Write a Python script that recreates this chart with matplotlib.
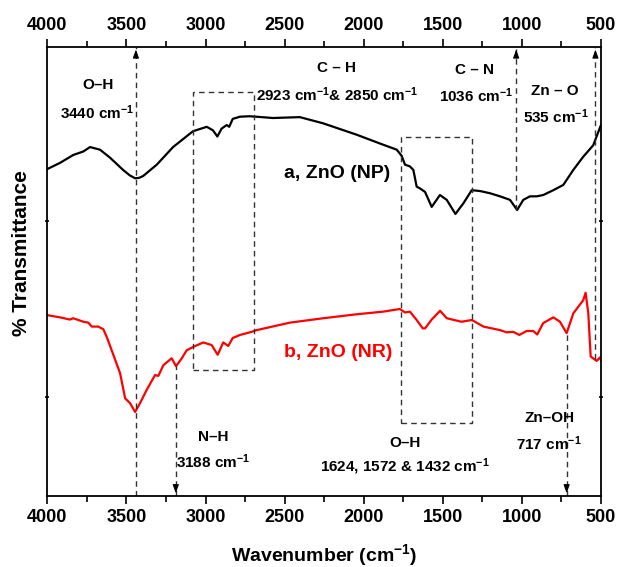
import matplotlib.pyplot as plt
import numpy as np

plt.rcParams['font.family'] = ['Liberation Sans', 'DejaVu Sans']
plt.rcParams['font.weight'] = 'bold'
plt.rcParams['mathtext.fontset'] = 'custom'
plt.rcParams['mathtext.rm'] = 'Liberation Sans:bold'
plt.rcParams['mathtext.it'] = 'Liberation Sans:bold'
plt.rcParams['mathtext.bf'] = 'Liberation Sans:bold'

# a, ZnO (NP) -- black
np_wave = [4000, 3920, 3836, 3772, 3730, 3667, 3604, 3521, 3480, 3445, 3420, 3395, 3308, 3205, 3079,
           2992, 2953, 2925, 2898, 2866, 2850, 2828, 2782, 2719, 2573, 2404, 2257, 2044,
           1897, 1791, 1760, 1739, 1708, 1686, 1665, 1644, 1612, 1570, 1518, 1475, 1420,
           1370, 1317, 1264, 1201, 1138, 1075, 1030, 991, 949, 906, 865, 801, 738, 675,
           612, 549, 500]
np_T = [65.9, 66.6, 67.5, 67.9, 68.4, 68.1, 67.2, 65.8, 65.2, 64.85, 64.9, 65.1, 66.4, 68.4, 70.2,
        70.7, 70.3, 69.6, 70.5, 70.9, 70.7, 71.6, 71.85, 71.9, 71.7, 71.8, 71.1, 69.8,
        68.8, 68.1, 67.4, 66.4, 66.2, 65.8, 63.9, 63.7, 63.3, 61.6, 62.95, 62.4, 60.8,
        62.0, 63.5, 63.4, 63.15, 62.8, 62.4, 61.25, 62.4, 62.8, 62.8, 62.95, 63.5, 64.1, 65.8,
        67.3, 68.6, 70.9]

# b, ZnO (NR) -- red
nr_wave = [4000, 3920, 3857, 3836, 3772, 3741, 3719, 3678, 3646, 3625, 3593, 3540, 3508,
           3477, 3445, 3414, 3372, 3319, 3298, 3267, 3214, 3186, 3150, 3119, 3077, 3014,
           2961, 2923, 2888, 2856, 2828, 2782, 2719, 2676, 2466, 2255, 2044, 1876, 1771,
           1739, 1708, 1665, 1627, 1612, 1570, 1517, 1475, 1382, 1316, 1243, 1138, 1096,
           1054, 1016, 970, 928, 903, 865, 801, 759, 717, 675, 612, 597, 580, 565, 527,
           506, 500]
nr_T = [49.3, 49.05, 48.8, 48.95, 48.55, 48.45, 48.0, 48.0, 47.7, 46.85, 45.3, 42.7, 39.85,
        39.3, 38.3, 39.3, 40.8, 42.5, 42.4, 43.6, 44.4, 43.5, 44.4, 45.3, 45.7, 46.2,
        45.9, 44.8, 46.2, 45.8, 46.7, 47.05, 47.35, 47.6, 48.45, 48.95, 49.4, 49.7, 50.0,
        49.6, 49.7, 48.75, 47.8, 47.8, 48.8, 49.8, 48.95, 48.55, 48.75, 48.0, 47.6, 47.35,
        47.4, 47.05, 47.5, 47.5, 47.1, 48.4, 49.05, 48.55, 47.25, 49.5, 51.0, 51.85, 49.5, 44.6, 44.1,
        44.5, 44.2]

x_ticks = [4000, 3500, 3000, 2500, 2000, 1500, 1000, 500]

# dashed peak markers: (wavenumber, y start, y end, arrow at 'top'/'bottom')
Y_TOP, Y_BOT = 79.8, 28.75
markers = [(3440, Y_BOT, Y_TOP, 'top'),
           (1036, 61.3, Y_TOP, 'top'),
           (535, 44.3, Y_TOP, 'top'),
           (3188, Y_BOT, 43.5, 'bottom'),
           (717, Y_BOT, 47.2, 'bottom')]

# dashed boxes: (x1, x2, y1, y2)
boxes = [(3080, 2695, 43.1, 74.6),
         (1766, 1313, 37.1, 69.5)]

fig = plt.figure(figsize=(6.26, 5.67), dpi=100)
ax = fig.add_axes([0.0756, 0.1252, 0.8844, 0.7924])

ax.plot(np_wave, np_T, color='black', lw=1.6)
ax.plot(nr_wave, nr_T, color='#ff0000', lw=1.6)

dash = dict(color='#333333', lw=1.0, ls=(0, (4, 3)))
for w, y1, y2, where in markers:
    ax.plot([w, w], [y1, y2], **dash)
    if where == 'top':
        ax.annotate('', xy=(w, Y_TOP), xytext=(0, -9), textcoords='offset points',
                    arrowprops=dict(arrowstyle='-|>,head_length=0.5,head_width=0.18',
                                    color='black', lw=0.8))
    else:
        ax.annotate('', xy=(w, Y_BOT), xytext=(0, 9), textcoords='offset points',
                    arrowprops=dict(arrowstyle='-|>,head_length=0.5,head_width=0.18',
                                    color='black', lw=0.8))

for x1, x2, y1, y2 in boxes:
    ax.plot([x1, x2, x2, x1, x1], [y1, y1, y2, y2, y1], **dash)

txt = dict(ha='center', va='center', fontsize=11, fontweight='bold')
ax.text(3680, 75.45, 'O–H', **txt)
ax.text(3686, 72.27, '3440 cm$^{-1}$', **txt)
ax.text(2169, 77.4, 'C – H', **txt)
ax.text(2169, 74.3, '2923 cm$^{-1}$& 2850 cm$^{-1}$', **txt)
ax.text(1302, 77.2, 'C – N', **txt)
ax.text(1290, 74.2, '1036 cm$^{-1}$', **txt)
ax.text(790, 74.8, 'Zn – O', **txt)
ax.text(784, 71.9, '535 cm$^{-1}$', **txt)
ax.text(2953, 35.45, 'N–H', **txt)
ax.text(2953, 32.6, '3188 cm$^{-1}$', **txt)
ax.text(1739, 34.8, 'O–H', **txt)
ax.text(1739, 32.05, '1624, 1572 & 1432 cm$^{-1}$', **txt)
ax.text(822, 37.6, 'Zn–OH', **txt)
ax.text(828, 34.7, '717 cm$^{-1}$', **txt)

ax.text(2169, 65.45, 'a, ZnO (NP)', ha='center', va='center', fontsize=14,
        fontweight='bold', color='black')
ax.text(2163, 45.1, 'b, ZnO (NR)', ha='center', va='center', fontsize=14,
        fontweight='bold', color='#ff0000')

ax.set_xlim(4000, 500)
ax.set_ylim(Y_BOT, Y_TOP)
ax.set_xticks(x_ticks)
ax.set_xticks(np.arange(500, 4001, 250), minor=True)
ax.set_yticks([40, 60])
ax.set_yticklabels([])
ax.xaxis.set_ticks_position('both')
ax.yaxis.set_ticks_position('both')
ax.tick_params(axis='x', which='major', direction='out', length=6, width=1.2,
               labelsize=13, labeltop=True, pad=3)
ax.tick_params(axis='x', which='minor', direction='out', length=4, width=1.2)
ax.tick_params(axis='y', which='major', direction='inout', length=3, width=1.2)
for lab in ax.get_xticklabels():
    lab.set_fontweight('bold')
for s in ax.spines.values():
    s.set_linewidth(1.3)

ax.set_xlabel('Wavenumber (cm$^{-1}$)', fontsize=14, fontweight='bold', labelpad=12)
ax.set_ylabel('% Transmittance', fontsize=15, fontweight='bold')
ax.yaxis.set_label_coords(-0.03, 0.54)

fig.savefig('out.png', dpi=100)
